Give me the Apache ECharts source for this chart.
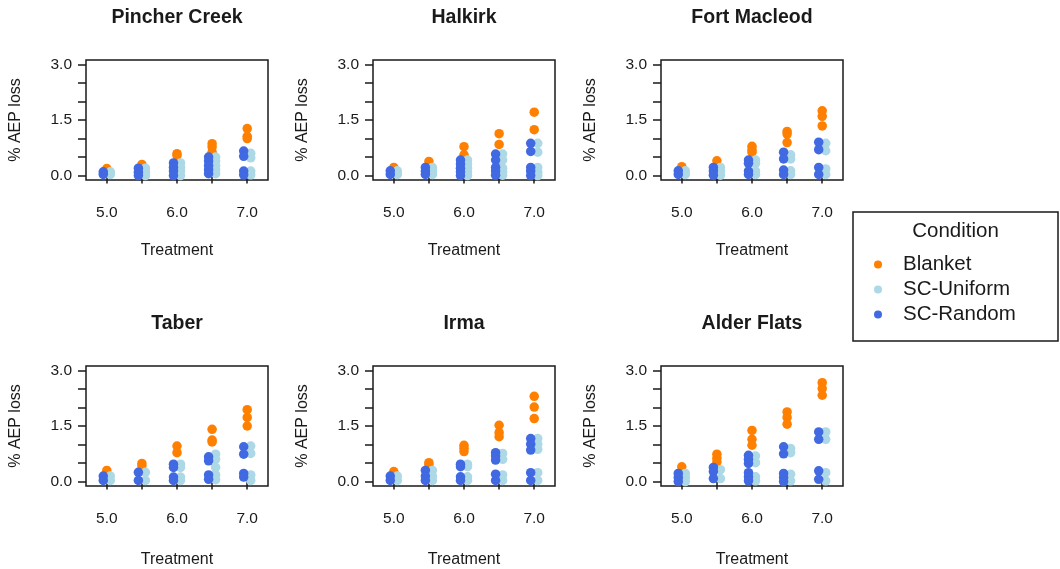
<!DOCTYPE html>
<html>
<head>
<meta charset="utf-8">
<script src="https://cdn.jsdelivr.net/npm/echarts@6/dist/echarts.min.js"></script>
<style>
html,body{margin:0;padding:0;background:#fff;}
#chart{width:1060px;height:569px;}
</style>
</head>
<body>
<div id="chart"></div>
<script>
// ---- data ----
const treatments = [5.0, 5.5, 6.0, 6.5, 7.0];
const xTickLabels = [5.0, 6.0, 7.0];
const yTickLabels = [0.0, 1.5, 3.0];
const yTicks = [0, 0.5, 1.0, 1.5, 2.0, 2.5, 3.0];
const sites = ['Pincher Creek', 'Halkirk', 'Fort Macleod', 'Taber', 'Irma', 'Alder Flats'];
const conditions = ['Blanket', 'SC-Uniform', 'SC-Random'];

// values per site, per treatment (list of observed values)
const blanket = [
  [[0.19],[0.30],[0.59,0.54],[0.86,0.77,0.63],[1.27,1.06,1.00]],
  [[0.22],[0.38],[0.78,0.56],[1.13,0.84,0.31],[1.71,1.24]],
  [[0.24],[0.40],[0.79,0.70,0.63],[1.19,1.12,0.89],[1.75,1.60,1.34]],
  [[0.30],[0.49,0.42],[0.96,0.78],[1.41,1.12,1.07],[1.94,1.73,1.50]],
  [[0.27],[0.51,0.45],[0.98,0.90,0.81],[1.52,1.32,1.21],[2.30,2.01,1.70]],
  [[0.40],[0.74,0.63,0.53],[1.38,1.14,0.98],[1.88,1.73,1.55],[2.67,2.51,2.33]]
];
const scUniform = [
  [[0.10,0.03],[0.20,0.09,0.00],[0.34,0.22,0.12,0.00],[0.50,0.39,0.27,0.16,0.05],[0.60,0.48,0.12,0.02]],
  [[0.13,0.03],[0.22,0.12,0.03],[0.42,0.31,0.20,0.10,0.00],[0.58,0.42,0.20,0.10,0.01],[0.87,0.63,0.22,0.09,0.00]],
  [[0.13,0.03],[0.22,0.12,0.01],[0.42,0.33,0.12,0.03],[0.56,0.45,0.13,0.03],[0.87,0.67,0.18,0.03]],
  [[0.15,0.03],[0.25,0.03],[0.47,0.38,0.12,0.03],[0.74,0.60,0.38,0.18,0.05],[0.96,0.76,0.18,0.03]],
  [[0.15,0.03],[0.30,0.15,0.03],[0.47,0.40,0.13,0.03],[0.76,0.60,0.18,0.03],[1.16,1.01,0.87,0.24,0.03]],
  [[0.22,0.11,0.00],[0.32,0.08],[0.69,0.51,0.13,0.02],[0.89,0.78,0.20,0.02],[1.34,1.14,0.24,0.02]]
];
const scRandom = [
  [[0.10,0.03],[0.20,0.09,0.00],[0.34,0.22,0.12,0.00],[0.50,0.39,0.27,0.16,0.05],[0.66,0.52,0.12,0.02]],
  [[0.13,0.03],[0.22,0.12,0.03],[0.42,0.31,0.20,0.10,0.00],[0.58,0.42,0.22,0.12,0.01],[0.87,0.65,0.22,0.12,0.00]],
  [[0.13,0.03],[0.22,0.12,0.01],[0.42,0.33,0.12,0.03],[0.63,0.45,0.15,0.03],[0.90,0.70,0.22,0.03]],
  [[0.15,0.03],[0.25,0.03],[0.47,0.38,0.12,0.03],[0.67,0.56,0.18,0.06],[0.94,0.74,0.22,0.12]],
  [[0.15,0.03],[0.30,0.15,0.03],[0.47,0.40,0.13,0.03],[0.78,0.69,0.58,0.20,0.03],[1.16,1.01,0.85,0.24,0.03]],
  [[0.22,0.11,0.00],[0.38,0.27,0.08],[0.71,0.60,0.49,0.24,0.13,0.02],[0.94,0.75,0.22,0.11,0.00],[1.34,1.14,0.29,0.06]]
];

// ---- styling / layout ----
const colors = {'Blanket':'#FF7F00','SC-Uniform':'#ADD8E6','SC-Random':'#4169E1'};
const offsets = {'Blanket':0,'SC-Uniform':0.05,'SC-Random':-0.05};
const FONT = '"Liberation Sans", Arial, sans-serif';
const INK = '#1a1a1a';
const colLeft = [86, 373, 661];
const rowTop = [60, 366];
const titleY = [18, 324];
const W = 182, H = 120;

const grids = [], xAxes = [], yAxes = [], series = [], graphics = [];
const condData = {'Blanket': blanket, 'SC-Uniform': scUniform, 'SC-Random': scRandom};

sites.forEach((site, i) => {
  const col = i % 3, row = Math.floor(i / 3);
  grids.push({left: colLeft[col], top: rowTop[row], width: W, height: H,
    show: true, borderColor: INK, borderWidth: 1.5, backgroundColor: 'transparent'});
  xAxes.push({
    gridIndex: i, type: 'value', min: 4.704, max: 7.296,
    axisLine: {show: false},
    axisTick: {show: true, customValues: treatments, length: 8, lineStyle: {color: INK, width: 1.5}},
    axisLabel: {show: true, customValues: xTickLabels, formatter: v => v.toFixed(1),
      fontSize: 15.5, color: INK, fontFamily: FONT, margin: 25},
    splitLine: {show: false},
    name: 'Treatment', nameLocation: 'middle', nameGap: row === 0 ? 63 : 66,
    nameTextStyle: {fontSize: 16, color: INK, fontFamily: FONT}
  });
  yAxes.push({
    gridIndex: i, type: 'value', min: -0.12, max: 3.12,
    axisLine: {show: false},
    axisTick: {show: true, customValues: yTicks, length: 8, lineStyle: {color: INK, width: 1.5}},
    axisLabel: {show: true, customValues: yTickLabels, formatter: v => v.toFixed(1),
      fontSize: 15.5, color: INK, fontFamily: FONT, margin: 14},
    splitLine: {show: false},
    name: '% AEP loss', nameLocation: 'middle', nameGap: 62,
    nameTextStyle: {fontSize: 16, color: INK, fontFamily: FONT}
  });
  conditions.forEach(c => {
    const pts = [];
    condData[c][i].forEach((vals, t) => {
      vals.forEach(v => pts.push([treatments[t] + offsets[c], v]));
    });
    series.push({
      name: c, type: 'scatter', xAxisIndex: i, yAxisIndex: i,
      symbol: 'circle', symbolSize: 9.5, data: pts,
      itemStyle: {color: colors[c], opacity: 1}, silent: true, animation: false
    });
  });
  graphics.push({
    type: 'text', x: colLeft[col] + W / 2, y: titleY[row],
    style: {text: site, font: 'bold 19.5px ' + FONT, fill: INK, align: 'center', verticalAlign: 'middle'}
  });
});

// legend frame and title
graphics.push({type: 'rect', shape: {x: 853, y: 212, width: 205, height: 129},
  style: {fill: '#fff', stroke: INK, lineWidth: 1.5}, z: -1});
graphics.push({type: 'text', x: 955.5, y: 231,
  style: {text: 'Condition', font: '20.5px ' + FONT, fill: INK, align: 'center', verticalAlign: 'middle'}});

const chart = echarts.init(document.getElementById('chart'), null, {renderer: 'canvas'});
chart.setOption({
  backgroundColor: '#fff',
  animation: false,
  grid: grids, xAxis: xAxes, yAxis: yAxes, series: series,
  legend: {
    data: conditions, orient: 'vertical', left: 874, top: 254, padding: 0,
    icon: 'circle', itemWidth: 8, itemHeight: 8, itemGap: 4,
    textStyle: {fontSize: 20.5, color: INK, fontFamily: FONT, lineHeight: 20.5, padding: [0, 0, 0, 16]},
    selectedMode: false
  },
  graphic: graphics
});
</script>
</body>
</html>
